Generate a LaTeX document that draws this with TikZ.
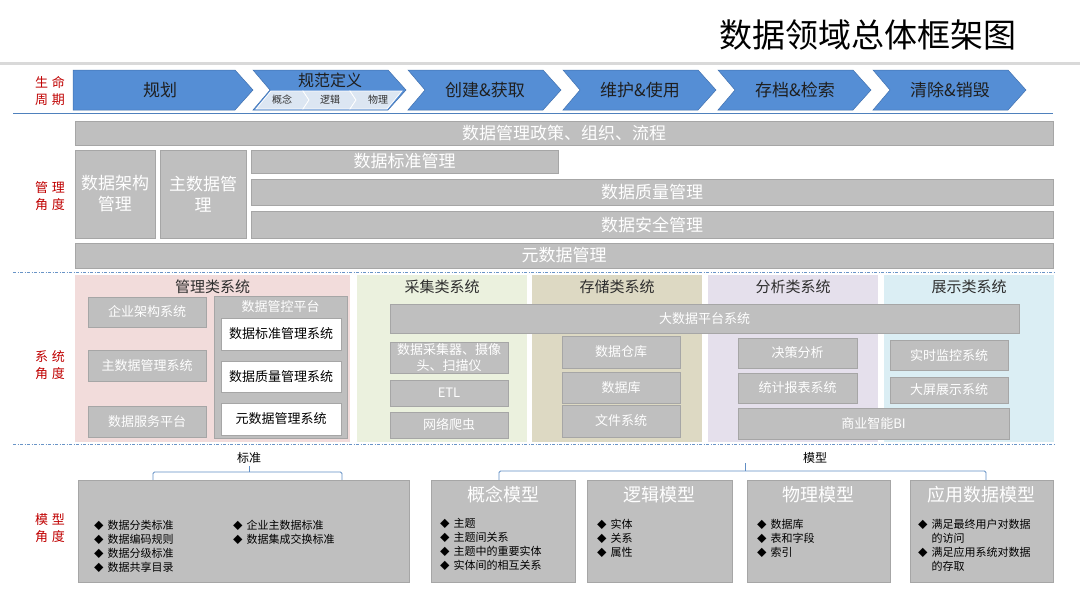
\documentclass[tikz,border=0pt]{standalone}
\usepackage{fontspec}
\setmainfont{Noto Sans CJK SC}
\usetikzlibrary{positioning}
\definecolor{chevblue}{RGB}{85,142,213}
\definecolor{chevedge}{RGB}{65,113,175}
\definecolor{subblue}{RGB}{220,230,242}
\definecolor{boxgray}{RGB}{191,191,191}
\definecolor{boxedge}{RGB}{166,166,166}
\definecolor{lblred}{RGB}{192,0,0}
\definecolor{lineblue}{RGB}{79,129,189}
\definecolor{titlegray}{RGB}{217,217,217}
\definecolor{bgpink}{RGB}{242,220,219}
\definecolor{bggreen}{RGB}{235,241,222}
\definecolor{bgtan}{RGB}{221,217,195}
\definecolor{bglav}{RGB}{229,224,236}
\definecolor{bgcyan}{RGB}{219,238,244}
\newcommand{\bul}{{\fontsize{9.5}{14}\selectfont ◆}}
\tikzset{chev/.style={fill=chevblue, draw=chevedge, line width=0.5pt}, % stage arrows of the life cycle
      subchev/.style={fill=subblue, draw=white, line width=0.8pt}, % small steps inside 规范定义
      chevtext/.style={font=\fontsize{17}{20}\selectfont, text=black!88},
      subtext/.style={font=\fontsize{10}{12}\selectfont, text=black!80},
      sidelabel/.style={text=lblred, font=\fontsize{13}{17}\selectfont, align=center},
      graybox/.style={ % Sets the properties for each grey block
      draw=boxedge, fill=boxgray, text=white, inner sep=0pt, align=center, line width=0.8pt},
      whitebox/.style={graybox, fill=white, text=black},
      big/.style={font=\fontsize{17}{21}\selectfont},
      small/.style={font=\fontsize{13}{16}\selectfont},
      sysbg/.style={inner sep=0pt, draw=none, minimum width=170, minimum height=167},
      cattitle/.style={font=\fontsize{15}{18}\selectfont, text=black!82},
      modeltitle/.style={font=\fontsize{18}{21}\selectfont, text=white},
      bullets/.style={anchor=north west, inner sep=0pt, font=\fontsize{11}{14}\selectfont, text=black},
      sepline/.style={lineblue!85, line width=0.8pt, dash pattern=on 3pt off 1.5pt on 1pt off 1.5pt},
      bracket/.style={lineblue!90, line width=0.9pt, rounded corners=1.5pt}}

\begin{document}
\begin{tikzpicture}[x=1pt, y=-1pt]
      \fill[white] (0,0) rectangle (1080,608);
      \useasboundingbox (0,0) rectangle (1080,608);
      % title
      \node[font=\fontsize{33}{36}\selectfont] (title) at (868,35) {数据领域总体框架图};
      \draw[titlegray, line width=3pt] (0,63) -- (1080,63);
      % life cycle
      \node[sidelabel] (lifelbl) at (50,91) {生\hspace{4pt}命\\周\hspace{4pt}期};
      \draw[chev] (73,70) -- (235,70) -- (253,90) -- (235,110) -- (73,110) -- cycle;
      \node[chevtext] (plan) at (160,90) {规划};
      \draw[chev] (253,70) -- ++(135,0) -- ++(18,20) -- ++(-18,20) -- ++(-135,0) -- ++(17,-20) -- cycle;
      \node[font=\fontsize{16}{18}\selectfont, text=black!88] (spec) at (330,80) {规范定义};
      \filldraw[subchev] (271,91) -- (303,91) -- (309,100) -- (303,109) -- (256,109) -- cycle;
      \filldraw[subchev] (303,91) -- (350,91) -- (356,100) -- (350,109) -- (303,109) -- (309,100) -- cycle;
      \filldraw[subchev] (350,91) -- (402,91) -- (387,109) -- (350,109) -- (356,100) -- cycle;
      \node[subtext] (concept) at (282,100) {概念};
      \node[subtext] (logic) at (330,100) {逻辑};
      \node[subtext] (physic) at (378,100) {物理};
      \foreach \L/\txt [count=\i] in {408/创建\&获取, 563/维护\&使用, 718/存档\&检索, 873/清除\&销毁}{
            \draw[chev] (\L,70) -- ++(135,0) -- ++(18,20) -- ++(-18,20) -- ++(-135,0) -- ++(17,-20) -- cycle;
            \node[chevtext] (stage\i) at (\L+77,90) {\txt};
      }
      \draw[lineblue, line width=1pt] (13,113) -- (1053,113);
      % management view
      \node[sidelabel] (mgmtlbl) at (50,196) {管\hspace{4pt}理\\角\hspace{4pt}度};
      \node[graybox, big, minimum width=978, minimum height=24] (policy) at (564,133) {数据管理政策、组织、流程};
      \node[graybox, big, minimum width=80, minimum height=88] (archmgmt) at (115,194) {数据架构\\管理};
      \node[graybox, big, minimum width=86, minimum height=88] (mdmmgmt) at (203,194) {主数据管\\理};
      \node[graybox, big, minimum width=307, minimum height=23] (stdmgmt) at (404.5,161.5) {数据标准管理};
      \node[graybox, big, minimum width=802, minimum height=26] (qualmgmt) at (652,192) {数据质量管理};
      \node[graybox, big, minimum width=802, minimum height=27] (secmgmt) at (652,224.5) {数据安全管理};
      \node[graybox, big, minimum width=978, minimum height=25] (metamgmt) at (564,255.5) {元数据管理};
      \draw[sepline] (13,272) -- (1054,272);
      % system view
      \node[sidelabel] (syslbl) at (50,365) {系\hspace{4pt}统\\角\hspace{4pt}度};
      \node[sysbg, fill=bgpink, minimum width=275] (mgmtsys) at (212.5,358.5) {};
      \node[sysbg, fill=bggreen] (collsys) at (442,358.5) {};
      \node[sysbg, fill=bgtan] (storsys) at (617,358.5) {};
      \node[sysbg, fill=bglav] (anlsys) at (793,358.5) {};
      \node[sysbg, fill=bgcyan] (dispsys) at (969,358.5) {};
      \node[cattitle] at ([yshift=-12pt]mgmtsys.north) {管理类系统};
      \node[cattitle] at ([yshift=-12pt]collsys.north) {采集类系统};
      \node[cattitle] at ([yshift=-12pt]storsys.north) {存储类系统};
      \node[cattitle] at ([yshift=-12pt]anlsys.north) {分析类系统};
      \node[cattitle] at ([yshift=-12pt]dispsys.north) {展示类系统};
      \node[graybox, small, minimum width=118, minimum height=30] (entarch) at (147,312) {企业架构系统};
      \node[graybox, small, minimum width=118, minimum height=31] (mdmsys) at (147,365.5) {主数据管理系统};
      \node[graybox, small, minimum width=118, minimum height=31] (dataserv) at (147,421.5) {数据服务平台};
      \node[graybox, minimum width=133, minimum height=142] (govplat) at (280.5,367) {};
      \node[small, text=white] (govtitle) at ([yshift=-11pt]govplat.north) {数据管控平台};
      \node[whitebox, small, minimum width=120, minimum height=32] (stdsys) at (281,334) {数据标准管理系统};
      \node[whitebox, small, minimum width=120, minimum height=31] (qualsys) at (281,376.5) {数据质量管理系统};
      \node[whitebox, small, minimum width=120, minimum height=32] (metasys) at (281,419) {元数据管理系统};
      \node[graybox, small, minimum width=629, minimum height=29] (bigdata) at (704.5,318.5) {大数据平台系统};
      \node[graybox, small, minimum width=118, minimum height=31] (collector) at (449,357.5) {数据采集器、摄像\\头、扫描仪};
      \node[graybox, small, minimum width=118, minimum height=26] (etl) at (449,393) {ETL};
      \node[graybox, small, minimum width=118, minimum height=26] (crawler) at (449,425) {网络爬虫};
      \node[graybox, small, minimum width=118, minimum height=32] (dw) at (621,352) {数据仓库};
      \node[graybox, small, minimum width=118, minimum height=31] (db) at (621,387.5) {数据库};
      \node[graybox, small, minimum width=118, minimum height=32] (filesys) at (621,421) {文件系统};
      \node[graybox, small, minimum width=119, minimum height=30] (decision) at (797.5,353) {决策分析};
      \node[graybox, small, minimum width=119, minimum height=30] (report) at (797.5,388) {统计报表系统};
      \node[graybox, small, minimum width=271, minimum height=31] (bi) at (873.5,423.5) {商业智能BI};
      \node[graybox, small, minimum width=118, minimum height=30] (monitor) at (949,355) {实时监控系统};
      \node[graybox, small, minimum width=118, minimum height=26] (bigscreen) at (949,390) {大屏展示系统};
      \draw[sepline] (13,444) -- (1054,444);
      % model view
      \node[sidelabel] (modellbl) at (50,528) {模\hspace{4pt}型\\角\hspace{4pt}度};
      \node[font=\fontsize{12}{14}\selectfont] (stdlbl) at (249,458) {标准};
      \node[font=\fontsize{12}{14}\selectfont] (modlbl) at (815,458) {模型};
      \coordinate (stdbrL) at (153,480);
      \coordinate (stdbrR) at (342,480);
      \coordinate (modbrL) at (499,480);
      \coordinate (modbrR) at (986,480);
      \draw[bracket] (stdbrL) -- ++(0,-8) -| (stdbrR);
      \draw[bracket] (249,472) -- (249,466);
      \draw[bracket] (modbrL) -- ++(0,-9) -| (modbrR);
      \draw[bracket] (745,471) -- (745,463);
      \node[graybox, minimum width=331, minimum height=102] (stdbox) at (243.5,531) {};
      \node[graybox, minimum width=144, minimum height=102] (cmodel) at (503,531) {};
      \node[graybox, minimum width=145, minimum height=102] (lmodel) at (659.5,531) {};
      \node[graybox, minimum width=143, minimum height=102] (pmodel) at (818.5,531) {};
      \node[graybox, minimum width=143, minimum height=102] (amodel) at (981.5,531) {};
      \node[modeltitle] at ([yshift=-15pt]cmodel.north) {概念模型};
      \node[modeltitle] at ([yshift=-15pt]lmodel.north) {逻辑模型};
      \node[modeltitle] at ([yshift=-15pt]pmodel.north) {物理模型};
      \node[modeltitle] at ([yshift=-15pt]amodel.north) {应用数据模型};
      \node[bullets] (stdlist1) at (94,519) {\begin{tabular}{@{}l@{\hspace{4pt}}l@{}}
            \bul & 数据分类标准\\ \bul & 数据编码规则\\ \bul & 数据分级标准\\ \bul & 数据共享目录\end{tabular}};
      \node[bullets] (stdlist2) at (233,519) {\begin{tabular}{@{}l@{\hspace{4pt}}l@{}}
            \bul & 企业主数据标准\\ \bul & 数据集成交换标准\end{tabular}};
      \node[bullets] (clist) at (440,517) {\begin{tabular}{@{}l@{\hspace{4pt}}l@{}}
            \bul & 主题\\ \bul & 主题间关系\\ \bul & 主题中的重要实体\\ \bul & 实体间的相互关系\end{tabular}};
      \node[bullets] (llist) at (597,518) {\begin{tabular}{@{}l@{\hspace{4pt}}l@{}}
            \bul & 实体\\ \bul & 关系\\ \bul & 属性\end{tabular}};
      \node[bullets] (plist) at (757,518) {\begin{tabular}{@{}l@{\hspace{4pt}}l@{}}
            \bul & 数据库\\ \bul & 表和字段\\ \bul & 索引\end{tabular}};
      \node[bullets] (alist) at (918,518) {\begin{tabular}{@{}l@{\hspace{4pt}}l@{}}
            \bul & 满足最终用户对数据\\ & 的访问\\ \bul & 满足应用系统对数据\\ & 的存取\end{tabular}};
\end{tikzpicture}
\end{document}
